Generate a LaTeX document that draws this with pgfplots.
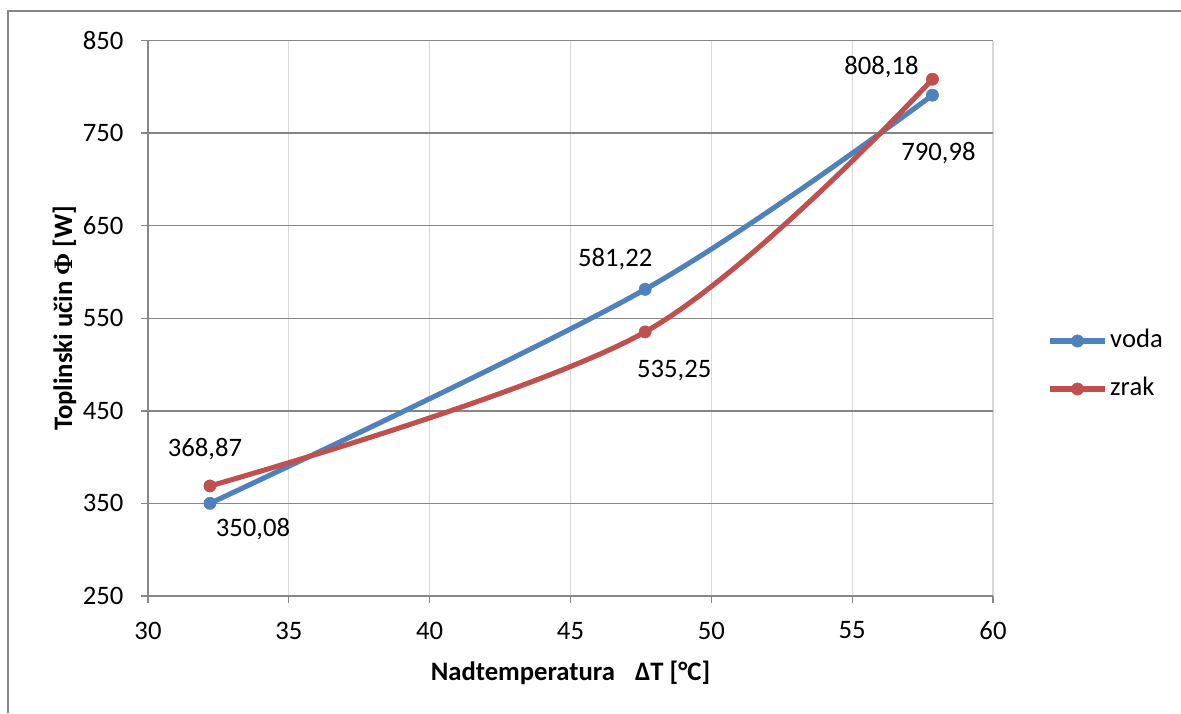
\documentclass[border=0pt]{standalone}
\usepackage{fontspec}
\setmainfont{Carlito}
\newfontfamily\phifont{Liberation Serif}
\usepackage{pgfplots}
\pgfplotsset{compat=1.18}
\definecolor{vodac}{HTML}{4F81BD}
\definecolor{zrakc}{HTML}{C0504D}
\definecolor{axgray}{HTML}{868686}
\definecolor{gridx}{HTML}{D9D9D9}
\begin{document}
\begin{tikzpicture}
\begin{axis}[
  at={(55.5pt,43.875pt)}, anchor=south west,
  scale only axis, width=316.875pt, height=208.3125pt,
  xmin=30, xmax=60, ymin=250, ymax=850,
  xtick={30,35,...,60}, ytick={250,350,...,850},
  axis x line*=bottom, axis y line*=left,
  axis line style={axgray, line width=0.5pt, -},
  tick align=outside, major tick length=2.6pt,
  tick style={axgray, line width=0.5pt},
  xmajorgrids, ymajorgrids,
  x grid style={gridx, line width=0.5pt},
  y grid style={axgray, line width=0.5pt},
  /pgf/number format/assume math mode=true,
  ticklabel style={font=\fontsize{10}{12}\selectfont},
  yticklabel style={anchor=east, inner sep=0pt, xshift=-6.4pt},
  xticklabel style={anchor=north, inner sep=0pt, yshift=-6.9pt},
  xlabel={\bfseries Nadtemperatura\hspace{0.75em}ΔT [°C]},
  ylabel={\bfseries Toplinski učin {\phifont\bfseries Φ} [W]},
  xlabel style={at={(axis description cs:0.5,-0.1512)}, anchor=base, inner sep=0pt},
  ylabel style={at={(axis description cs:-0.0899,0.5)}, anchor=base, inner sep=0pt},
  legend style={at={(axis description cs:1.0639,0.4158)}, anchor=west, draw=none, fill=none,
    inner sep=0pt, row sep=9pt,
    nodes={inner xsep=1pt, inner ysep=0pt, text height=7pt, text depth=2pt}},
  legend cell align=left,
  legend image code/.code={\draw[mark repeat=2,mark phase=2,#1] plot coordinates {(0pt,0pt) (10.3pt,0pt) (20.6pt,0pt)};},
  every axis plot/.append style={line width=1.9pt, mark=*, mark size=2.3pt, smooth, tension=0.55},
]
\addplot[color=vodac, mark options={fill=vodac, draw=vodac, line width=0.2pt}] coordinates {
  (32.2,350.08) (47.65,581.22) (57.85,790.98)
};
\addlegendentry{voda}
\addplot[color=zrakc, mark options={fill=zrakc, draw=zrakc, line width=0.2pt}] coordinates {
  (32.2,368.87) (47.65,535.25) (57.85,808.18)
};
\addlegendentry{zrak}
\node[anchor=base, inner sep=0pt, xshift=-1.9pt, yshift=11.06pt] at (axis cs:32.2,368.87) {368,87};
\node[anchor=base, inner sep=0pt, xshift=16.1pt, yshift=-12.56pt] at (axis cs:32.2,350.08) {350,08};
\node[anchor=base, inner sep=0pt, xshift=-11.25pt, yshift=8.44pt] at (axis cs:47.65,581.22) {581,22};
\node[anchor=base, inner sep=0pt, xshift=10.9pt, yshift=-17.06pt] at (axis cs:47.65,535.25) {535,25};
\node[anchor=base, inner sep=0pt, xshift=-19.1pt, yshift=1.69pt] at (axis cs:57.85,808.18) {808,18};
\node[anchor=base, inner sep=0pt, xshift=2.25pt, yshift=-24.56pt] at (axis cs:57.85,790.98) {790,98};
\end{axis}
\draw[axgray, line width=0.6pt] (3pt,0pt) -- (3pt,263.25pt) -- (442.875pt,263.25pt);
\pgfresetboundingbox
\path[use as bounding box] (0pt,0pt) rectangle (442.875pt,267.375pt);
\end{tikzpicture}
\end{document}
